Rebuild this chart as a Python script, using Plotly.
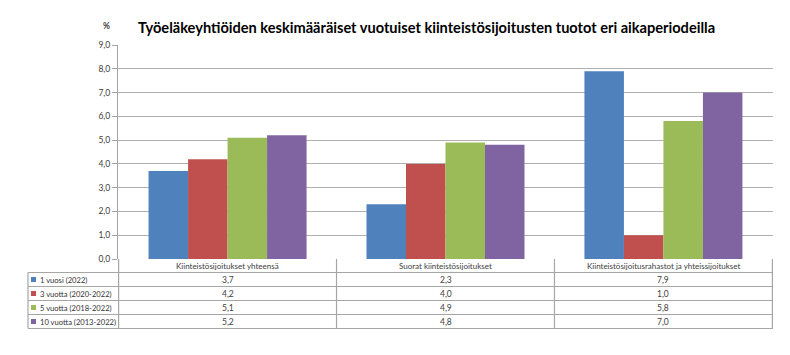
import plotly.graph_objects as go

categories = ["Kiinteistösijoitukset yhteensä", "Suorat kiinteistösijoitukset",
              "Kiinteistösijoitusrahastot ja yhteissijoitukset"]
series_names = ["1 vuosi (2022)", "3 vuotta (2020-2022)", "5 vuotta (2018-2022)", "10 vuotta (2013-2022)"]
v1 = [3.7, 2.3, 7.9]
v3 = [4.2, 4.0, 1.0]
v5 = [5.1, 4.9, 5.8]
v10 = [5.2, 4.8, 7.0]
series_values = [v1, v3, v5, v10]
colors = ["#4F81BD", "#C0504D", "#9BBB59", "#8064A2"]
title_text = "Työeläkeyhtiöiden keskimääräiset vuotuiset kiinteistösijoitusten tuotot eri aikaperiodeilla"

OFF = 8  # page body margin
W, H = 790 - 2 * OFF, 355 - 2 * OFF
L, R, T, B = 118 - OFF, 773 - OFF, 45 - OFF, 259 - OFF
FONT = "Lato, 'Open Sans', sans-serif"
TXT = "#404040"
LINE = "#A6A6A6"

def px(x):
    return (x - OFF - L) / (R - L)

def py(y):
    return (B - (y - OFF)) / (B - T)

fig = go.Figure()
for name, vals, c in zip(series_names, series_values, colors):
    fig.add_trace(go.Bar(x=categories, y=vals, name=name, marker_color=c,
                         marker_line_width=0, showlegend=False))

shapes = []
annotations = []
rows = [259, 272.5, 286.5, 300.5, 314.5, 328.5]
line = dict(color=LINE, width=1.2)
for yy in rows[1:]:
    shapes.append(dict(type="line", xref="paper", yref="paper", x0=px(28), x1=1,
                       y0=py(yy), y1=py(yy), line=line, layer="above"))
shapes.append(dict(type="line", xref="paper", yref="paper", x0=px(28), x1=px(28),
                   y0=py(rows[1]), y1=py(rows[-1]), line=line))
for k in range(len(categories) + 1):
    shapes.append(dict(type="line", xref="x", yref="paper", x0=k - 0.5, x1=k - 0.5,
                       y0=py(rows[0]), y1=py(rows[-1]), line=line))

for cat in categories:
    annotations.append(dict(x=cat, y=py((rows[0] + rows[1]) / 2), xref="x", yref="paper",
                            text=cat, showarrow=False, font=dict(size=8, color=TXT, family=FONT),
                            xanchor="center", yanchor="middle"))
for i, (name, vals, c) in enumerate(zip(series_names, series_values, colors)):
    yc = (rows[i + 1] + rows[i + 2]) / 2
    shapes.append(dict(type="rect", xref="paper", yref="paper", x0=px(31), x1=px(36),
                       y0=py(yc + 2.5), y1=py(yc - 2.5), fillcolor=c, line=dict(width=0)))
    annotations.append(dict(x=px(38), y=py(yc), xref="paper", yref="paper", text=name,
                            showarrow=False, xanchor="left", yanchor="middle",
                            font=dict(size=7.6, color="#333333", family=FONT)))
    for cat, v in zip(categories, vals):
        annotations.append(dict(x=cat, y=py(yc), xref="x", yref="paper",
                                text=f"{v:.1f}".replace(".", ","), showarrow=False,
                                xanchor="center", yanchor="middle",
                                font=dict(size=8.5, color=TXT, family=FONT)))

annotations.append(dict(x=px(426), y=py(27), xref="paper", yref="paper", text="<b>" + title_text + "</b>",
                        showarrow=False, xanchor="center", yanchor="middle",
                        font=dict(size=14.6, color="#000000", family=FONT)))
annotations.append(dict(x=px(106), y=py(26), xref="paper", yref="paper", text="<b>%</b>",
                        showarrow=False, xanchor="center", yanchor="middle",
                        font=dict(size=8.5, color=TXT, family=FONT)))

fig.update_layout(
    width=W, height=H,
    margin=dict(l=L, r=W - R, t=T, b=H - B, pad=0),
    paper_bgcolor="white", plot_bgcolor="white",
    barmode="group", bargap=0.275, bargroupgap=0,
    separators=", ",
    font=dict(family=FONT, color=TXT),
    shapes=shapes, annotations=annotations,
    xaxis=dict(showticklabels=False, showgrid=False, zeroline=False, showline=False, ticks=""),
    yaxis=dict(range=[0, 9], tickvals=list(range(10)), tickformat=".1f",
               showgrid=True, gridcolor="#B0B0B0", gridwidth=1,
               showline=True, linecolor=LINE, linewidth=1.2,
               ticks="outside", ticklen=5, tickcolor=LINE,
               zeroline=False, tickfont=dict(size=8.5, color=TXT, family=FONT)),
)
fig.write_html("out.html")
